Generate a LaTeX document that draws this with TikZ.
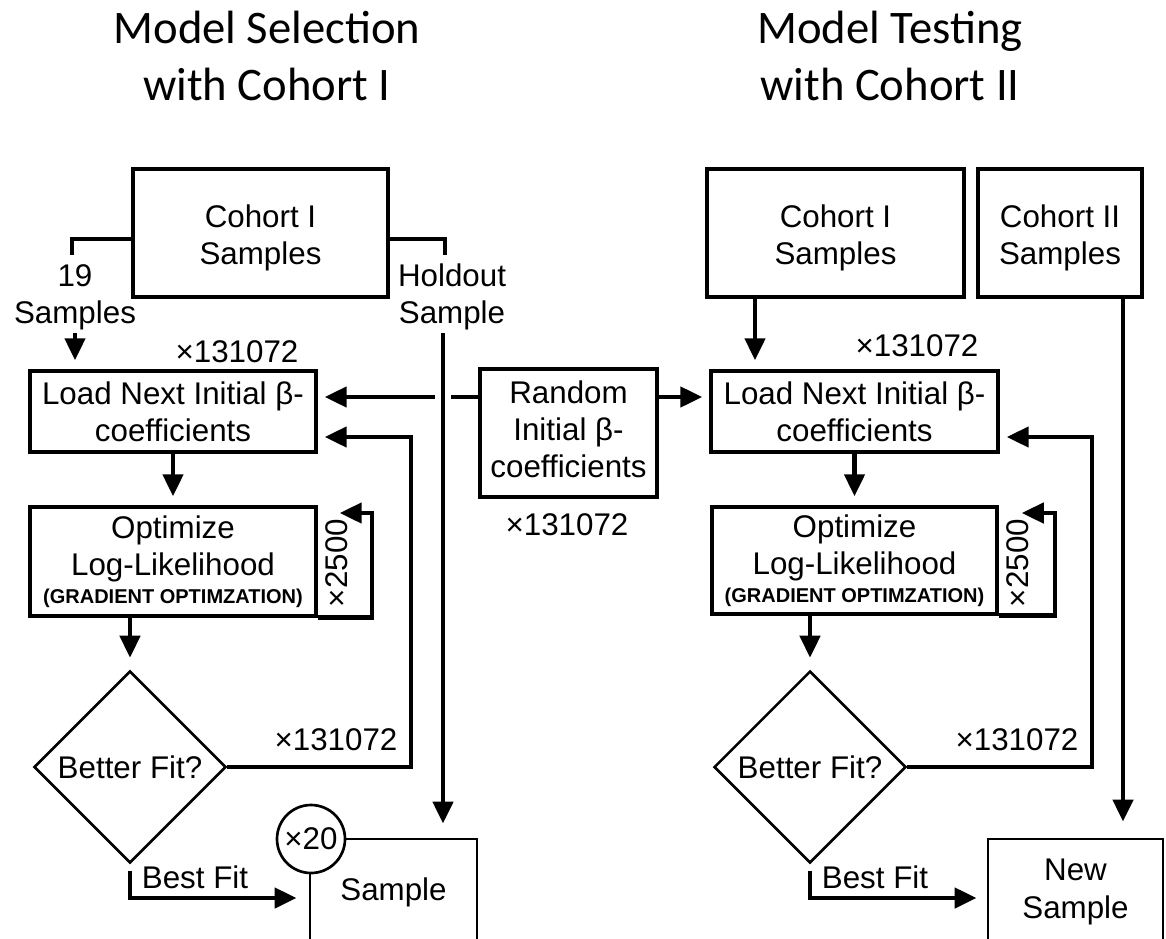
\documentclass[tikz,border=0pt]{standalone}
\usepackage{fontspec}
\setmainfont{Liberation Sans}
\newfontfamily\titlefont{Carlito}
\usetikzlibrary{arrows.meta,shapes.geometric,calc}
\begin{document}
\begin{tikzpicture}[x=0.75pt,y=-0.75pt,
  every node/.style={inner sep=2pt, font=\fontsize{23.5pt}{28pt}\selectfont, align=center},
  box/.style={draw, line width=2.6pt, rectangle, inner sep=0pt},
  conn/.style={line width=3.5pt},
  arr/.style={line width=3.5pt, -{Triangle[length=16.5pt,width=15pt]}},
  decision/.style={diamond, draw, line width=1.9pt, minimum width=144pt, minimum height=144pt, inner sep=0pt, aspect=1},
  repcircle/.style={circle, draw, fill=white, line width=2pt, minimum size=51pt, inner sep=0pt},
  titletext/.style={font=\titlefont\fontsize{35pt}{43pt}\selectfont}]
\fill[white] (0,0) rectangle (1166,938);
\useasboundingbox (0,0) rectangle (1166,938);

% titles
\node[titletext] (tA) at (267,56) {Model Selection\\with Cohort I};
\node[titletext] (tB) at (890,56) {Model Testing\\with Cohort II};

% ---------- left ----------
\node[box, minimum width=191.25pt, minimum height=96pt] (cohA) at (260.5,233) {\rule{0pt}{24.5pt}Cohort I\\Samples};
\node (s19) at (75,297) {19\\Samples};
\node (hold) at (452,297) {Holdout\\Sample};
\node (mA1) at (237,352) {×131072};
\node[box, minimum width=214.5pt, minimum height=60.75pt] (loadA) at (173,411.5) {Load Next Initial β-\\coefficients};
\node[box, minimum width=214.5pt, minimum height=81.75pt] (optA) at (173,561.5) {Optimize\\Log-Likelihood\\[-7.5pt]{\fontsize{15pt}{18pt}\selectfont\bfseries (GRADIENT OPTIMZATION)}};
\node[rotate=90] (rA) at (337,563) {×2500};
\node[decision] (diaA) at (130,767) {Better Fit?};
\node (mA2) at (336,740) {×131072};
\node (bfA) at (195,877) {Best Fit};
\node[box, line width=2.2pt, minimum width=125.25pt, minimum height=79.5pt] (sampA) at (393.5,892) {Sample};

% centre
\node[box, minimum width=132.75pt, minimum height=96pt] (randA) at (568.5,433) {Random\\Initial β-\\coefficients\rule[-6pt]{0pt}{0pt}};
\node (mR) at (567,525) {×131072};

% ---------- right ----------
\node[box, minimum width=192.75pt, minimum height=96pt] (cohB) at (835.5,233) {\rule{0pt}{24.5pt}Cohort I\\Samples};
\node[box, minimum width=123pt, minimum height=96pt] (coh2) at (1060,233) {\rule{0pt}{24.5pt}Cohort II\\Samples};
\node (mB1) at (917,346) {×131072};
\node[box, minimum width=215.25pt, minimum height=60.75pt] (loadB) at (854.5,411.5) {Load Next Initial β-\\coefficients};
\node[box, minimum width=213.75pt, minimum height=80.25pt] (optB) at (854.5,560.5) {Optimize\\Log-Likelihood\\[-7.5pt]{\fontsize{15pt}{18pt}\selectfont\bfseries (GRADIENT OPTIMZATION)}};
\node[rotate=90] (rB) at (1017.5,563) {×2500};
\node[decision] (diaB) at (810,767) {Better Fit?};
\node (mB2) at (1017,740) {×131072};
\node (bfB) at (875,877) {Best Fit};
\node[box, line width=2.2pt, minimum width=131.25pt, minimum height=79.5pt] (newB) at (1075.5,892) {New\\Sample};

% coordinates
\coordinate (brA) at (72,255);
\coordinate (brB) at (445,255);
\coordinate (hx) at (443,0);
\coordinate (ry) at (0,397);
\coordinate (gapR) at (451,397);
\coordinate (gapL) at (435,397);
\coordinate (lpA) at (372,513);
\coordinate (lkA) at (411,437);
\coordinate (bfy) at (0,898);
\coordinate (c1x) at (755,0);
\coordinate (c2x) at (1123,0);
\coordinate (lpB) at (1055,513);
\coordinate (lkB) at (1092,437);

% ---------- connectors left ----------
\draw[conn] ($(cohA.west)+(0,6)$) -| (brA);
\draw[conn] ($(cohA.east)+(0,6)$) -| (brB);
\draw[arr, shorten >=6.75pt] (s19.south) -- (s19.south |- loadA.north);
\draw[arr, shorten >=10.5pt] (hold.south -| hx) -- (sampA.north -| hx);
\draw[conn] (randA.west |- ry) -- (gapR);
\draw[arr, shorten >=5.25pt] (gapL) -- (loadA.east |- ry);
\draw[arr, shorten >=6.75pt] (loadA.south) -- (optA.north);
\draw[arr, shorten >=16.5pt] (optA.south east) -| (lpA) -- (optA.east |- lpA);
\draw[arr, shorten >=9pt] (optA.south -| diaA) -- (diaA.north);
\draw[arr, shorten >=5.25pt] (diaA.east) -| (lkA) -- (loadA.east |- lkA);
\draw[arr, shorten <=5pt, shorten >=9pt] (diaA.south) |- (sampA.west |- bfy);
\node[repcircle] (x20) at (311,839) {×20};

% ---------- connectors right ----------
\draw[arr, shorten >=5.25pt] (randA.east |- ry) -- (loadB.west |- ry);
\draw[arr, shorten >=6.75pt] (cohB.south -| c1x) -- (loadB.north -| c1x);
\draw[arr, shorten >=12pt] (coh2.south -| c2x) -- (newB.north -| c2x);
\draw[arr, shorten >=6.75pt] (loadB.south) -- (optB.north);
\draw[arr, shorten >=17.25pt] (optB.south east) -| (lpB) -- (optB.east |- lpB);
\draw[arr, shorten >=9pt] (optB.south -| diaB) -- (diaB.north);
\draw[arr, shorten >=5.25pt] (diaB.east) -| (lkB) -- (loadB.east |- lkB);
\draw[arr, shorten <=5pt, shorten >=7.5pt] (diaB.south) |- (newB.west |- bfy);
\end{tikzpicture}
\end{document}
